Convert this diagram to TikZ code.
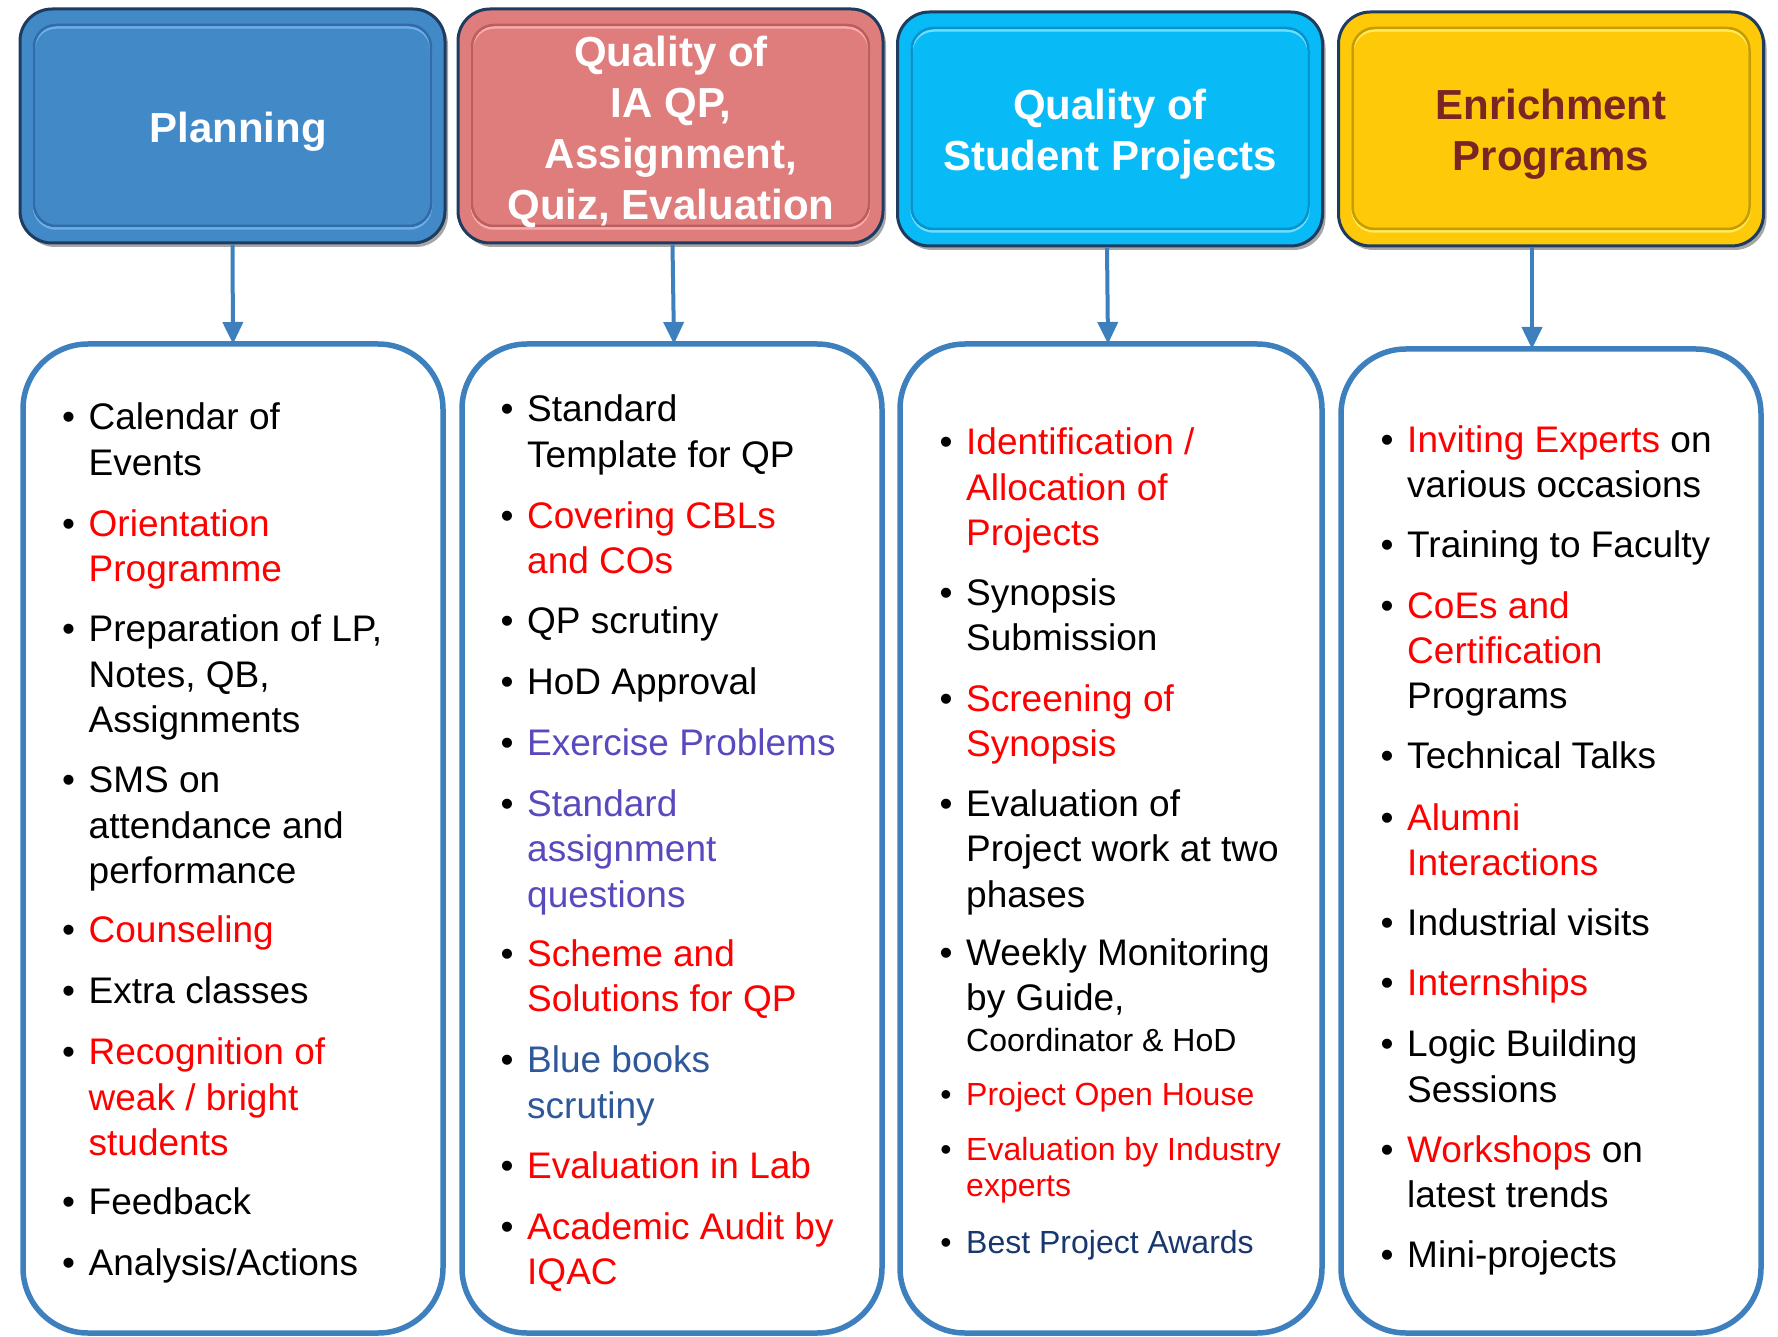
\documentclass[tikz,border=0pt]{standalone}
\usepackage{fontspec}
\setmainfont{Liberation Sans}
\usetikzlibrary{arrows.meta,shadows}
\definecolor{hborder}{RGB}{30,60,95}
\definecolor{hblue}{RGB}{66,137,200}
\definecolor{hblued}{RGB}{48,108,168}
\definecolor{hbluel}{RGB}{110,175,235}
\definecolor{hpink}{RGB}{223,125,125}
\definecolor{hpinkd}{RGB}{188,94,94}
\definecolor{hpinkl}{RGB}{250,172,172}
\definecolor{hcyan}{RGB}{8,187,247}
\definecolor{hcyand}{RGB}{5,148,205}
\definecolor{hcyanl}{RGB}{110,222,255}
\definecolor{hyel}{RGB}{254,201,8}
\definecolor{hyeld}{RGB}{200,155,0}
\definecolor{hyell}{RGB}{255,236,90}
\definecolor{enr}{RGB}{122,36,36}
\definecolor{cblue}{RGB}{62,128,190}
\definecolor{tred}{RGB}{255,0,0}
\definecolor{tpurp}{RGB}{89,73,190}
\definecolor{tblue}{RGB}{47,88,155}
\definecolor{tnavy}{RGB}{23,55,110}
\tikzset{
  big/.style={font=\fontsize{37}{45}\selectfont},
  small/.style={font=\fontsize{32}{38}\selectfont},
  bul/.style={anchor=base,inner sep=0pt,text=black},
  txt/.style={anchor=base west,inner sep=0pt},
  bev/.style={rounded corners=22pt,line width=2.5pt},
  hdr/.style n args={3}{draw=hborder,line width=3pt,rounded corners=32pt,
    minimum width=425pt,minimum height=234pt,inner sep=0pt,fill=#1,
    drop shadow={shadow xshift=3pt,shadow yshift=-4pt,opacity=0.35,fill=black},
    path picture={
      \draw[bev,draw=#3] ([xshift=14pt,yshift=-18.5pt]path picture bounding box.north west) rectangle ([xshift=-14pt,yshift=14.5pt]path picture bounding box.south east);
      \draw[bev,draw=#2] ([xshift=14pt,yshift=-16pt]path picture bounding box.north west) rectangle ([xshift=-14pt,yshift=17pt]path picture bounding box.south east);
    }},
  htext/.style={align=center,inner sep=0pt,font=\bfseries\fontsize{42}{51}\selectfont},
  cbox/.style={draw=cblue,line width=5.5pt,rounded corners=65pt,minimum width=420pt,
    minimum height=989pt,inner sep=0pt,outer sep=0pt},
  arr/.style={draw=cblue,line width=4pt,-{Triangle[width=20pt,length=22pt]}}
}
% name, x, baseline y, line step, font style, colour, lines
\newcommand\bitem[7]{%
  \node[bul,#5] (#1b) at ({#2-20},#3) {\textbullet};%
  \foreach \myline [count=\k] in {#7}{%
    \node[txt,#5,text=#6] (#1-\k) at (#2,{#3+(\k-1)*#4}) {\myline};}%
}
\begin{document}
\begin{tikzpicture}[x=1pt,y=-1pt]
\useasboundingbox (0,0) rectangle (1778,1337);
\fill[white] (0,0) rectangle (1778,1337);
% header boxes
\node[hdr={hblue}{hblued}{hbluel}] (h1) at (232.5,126) {};
\node[hdr={hpink}{hpinkd}{hpinkl}] (h2) at (670.5,126) {};
\node[hdr={hcyan}{hcyand}{hcyanl}] (h3) at (1110,129) {};
\node[hdr={hyel}{hyeld}{hyell}] (h4) at (1551,129) {};
\node[htext,text=white] (h1t) at (238,131.5) {Planning};
\node[htext,text=white] (h2t) at (671,131.5) {Quality of\\IA QP,\\Assignment,\\Quiz, Evaluation};
\node[htext,text=white] (h3t) at (1110,134.5) {Quality of\\Student Projects};
\node[htext,text=enr] (h4t) at (1551,134.5) {Enrichment\\Programs};
% content boxes
\node[cbox] (c1) at (233,838.5) {};
\node[cbox] (c2) at (672,838.5) {};
\node[cbox,minimum width=422pt] (c3) at (1111,838.5) {};
\node[cbox,minimum height=984pt] (c4) at (1551,841) {};
% arrows
\draw[arr] (h1.south) -- (c1.north);
\draw[arr] ([xshift=2pt]h2.south) -- ([xshift=2pt]c2.north);
\draw[arr] ([xshift=-3pt]h3.south) -- ([xshift=-3pt]c3.north);
\draw[arr] ([xshift=-19pt]h4.south) -- ([xshift=-19pt]c4.north);
% column 1
\bitem{a1}{88.5}{430}{45.3}{big}{black}{Calendar of,Events}
\bitem{a2}{88.5}{536.4}{45.3}{big}{tred}{Orientation,Programme}
\bitem{a3}{88.5}{641.8}{45.3}{big}{black}{{Preparation of LP,},{Notes, QB,},Assignments}
\bitem{a4}{88.5}{792.7}{45.3}{big}{black}{SMS on,attendance and,performance}
\bitem{a5}{88.5}{942.4}{45.3}{big}{tred}{Counseling}
\bitem{a6}{88.5}{1003.6}{45.3}{big}{black}{Extra classes}
\bitem{a7}{88.5}{1064.8}{45.3}{big}{tred}{Recognition of,weak / bright,students}
\bitem{a8}{88.5}{1214.5}{45.3}{big}{black}{Feedback}
\bitem{a9}{88.5}{1275.7}{45.3}{big}{black}{Analysis/Actions}
% column 2
\bitem{b1}{527}{421.8}{45.3}{big}{black}{Standard,Template for QP}
\bitem{b2}{527}{528.4}{45.3}{big}{tred}{Covering CBLs,and COs}
\bitem{b3}{527}{633.9}{45.3}{big}{black}{QP scrutiny}
\bitem{b4}{527}{694}{45.3}{big}{black}{HoD Approval}
\bitem{b5}{527}{755.2}{45.3}{big}{tpurp}{Exercise Problems}
\bitem{b6}{527}{816.5}{45.3}{big}{tpurp}{Standard,assignment,questions}
\bitem{b7}{527}{966.2}{45.3}{big}{tred}{Scheme and,Solutions for QP}
\bitem{b8}{527}{1072.8}{45.3}{big}{tblue}{Blue books,scrutiny}
\bitem{b9}{527}{1178.2}{45.3}{big}{tred}{Evaluation in Lab}
\bitem{b10}{527}{1239.5}{45.3}{big}{tred}{Academic Audit by,IQAC}
% column 3
\bitem{d1}{966}{454.7}{45.3}{big}{tred}{Identification /,Allocation of,Projects}
\bitem{d2}{966}{605.6}{45.3}{big}{black}{Synopsis,Submission}
\bitem{d3}{966}{711}{45.3}{big}{tred}{Screening of,Synopsis}
\bitem{d4}{966}{816.5}{45.3}{big}{black}{Evaluation of,Project work at two,phases}
\bitem{d5}{966}{965.5}{45.3}{big}{black}{Weekly Monitoring,{by Guide,}}
\node[txt,small] (d5-3) at (966,1051.7) {Coordinator \& HoD};
\bitem{d6}{966}{1105}{36.7}{small}{tred}{Project Open House}
\bitem{d7}{966}{1160}{36.7}{small}{tred}{Evaluation by Industry,experts}
\bitem{d8}{966}{1253.3}{36.7}{small}{tnavy}{Best Project Awards}
% column 4
\bitem{e1}{1407}{452.5}{45.3}{big}{black}{{\textcolor{tred}{Inviting Experts} on},various occasions}
\bitem{e2}{1407}{557.9}{45.3}{big}{black}{Training to Faculty}
\bitem{e3}{1407}{618}{45.3}{big}{black}{\textcolor{tred}{CoEs and},\textcolor{tred}{Certification},Programs}
\bitem{e4}{1407}{768.9}{45.3}{big}{black}{Technical Talks}
\bitem{e5}{1407}{830.1}{45.3}{big}{tred}{Alumni,Interactions}
\bitem{e6}{1407}{935.6}{45.3}{big}{black}{Industrial visits}
\bitem{e7}{1407}{995.7}{45.3}{big}{tred}{Internships}
\bitem{e8}{1407}{1056.9}{45.3}{big}{black}{Logic Building,Sessions}
\bitem{e9}{1407}{1162.3}{45.3}{big}{black}{{\textcolor{tred}{Workshops} on},latest trends}
\bitem{e10}{1407}{1267.8}{45.3}{big}{black}{Mini-projects}
\end{tikzpicture}
\end{document}
